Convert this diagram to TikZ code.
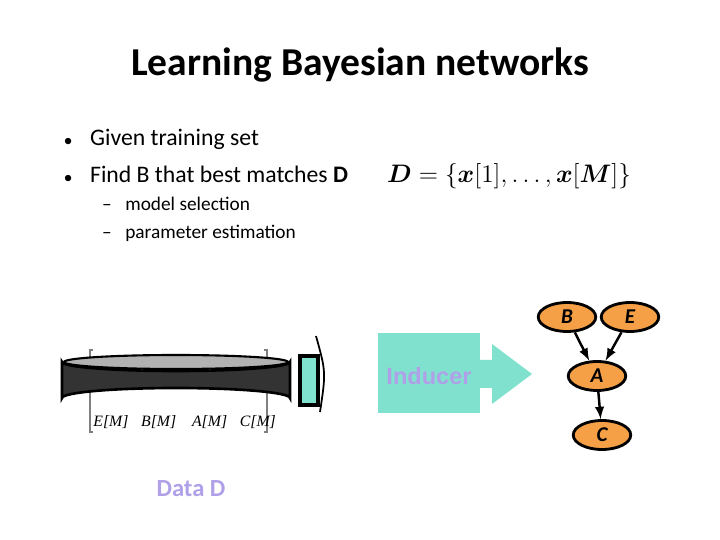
\documentclass[tikz,border=0pt]{standalone}
\usepackage{amsmath,bm}
\usepackage{fontspec}
\setmainfont{Carlito}
\setsansfont{Liberation Sans}
\newfontfamily\rowfont{Liberation Serif}
\usetikzlibrary{shapes.geometric}
\definecolor{teal}{RGB}{128,226,206}
\definecolor{lav}{RGB}{176,160,232}
\definecolor{bnorange}{RGB}{245,160,70}
\begin{document}
\begin{tikzpicture}[x=0.02cm,y=-0.02cm,
        title/.style={font=\fontsize{22.5}{25}\selectfont\bfseries},
        item/.style={anchor=west, font=\fontsize{13.5}{15}\selectfont},
        subitem/.style={anchor=west, font=\fontsize{11}{13}\selectfont},
        var/.style={ellipse, draw=black, line width=1.6pt, fill=bnorange, minimum width=1.15cm, minimum height=0.58cm, inner sep=0pt, font=\bfseries\itshape\large},
        edge/.style={->, >=latex, line width=1.4pt},
        caption/.style={text=lav, font=\fontsize{14}{16}\selectfont\bfseries}
    ]
        \useasboundingbox (0,0) rectangle (720,540);
        % Title
        \node[title] (title) at (360,65) {Learning Bayesian networks};
        % Bullets
        \node[item] (b1) at (58,139) {{\small$\bullet$}\hspace{0.75em}Given training set};
        \node[item] (b2) at (58,174) {{\small$\bullet$}\hspace{0.75em}Find B that best matches \textbf{D}};
        \node[subitem] (s1) at (96,204) {--\hspace{0.7em}model selection};
        \node[subitem] (s2) at (96,233) {--\hspace{0.7em}parameter estimation};
        % Formula
        \node[anchor=west, font=\fontsize{15}{17}\selectfont] (formula) at (381,176)
            {$\bm{D}=\{\bm{x}[1],\ldots,\bm{x}[\bm{M}]\}$};
        % Data cylinder
        \draw[line width=0.6pt, gray] (93,350) -- (90,350) -- (90,432) -- (93,432);
        \draw[line width=0.6pt, gray] (264,350) -- (267,350) -- (267,432) -- (264,432);
        \fill[black!80, draw=black, line width=1.5pt] (62,362) -- (62,398) arc[start angle=180, end angle=360, x radius=114, y radius=10]
            -- (290,362) arc[start angle=0, end angle=180, x radius=114, y radius=9] -- cycle;
        \fill[gray!60, draw=black, line width=1.2pt] (176,362) ellipse[x radius=112, y radius=7];
        \node[font=\fontsize{9}{10}\selectfont\rowfont\itshape, anchor=west, inner sep=0pt] (rowM) at (93,422)
            {E[M]\hspace{0.8em}B[M]\hspace{1em}A[M]\hspace{0.8em}C[M]};
        % Cut-off arrow
        \fill[teal, draw=black, line width=2.5pt] (300,356) rectangle (318,405);
        \draw[line width=1pt] (316,336) .. controls (326,372) .. (320,412);
        % Inducer
        \fill[teal] (378,333) rectangle (480,413);
        \fill[teal] (479,360) -- (492,360) -- (492,344) -- (532,374) -- (492,404) -- (492,388) -- (479,388) -- cycle;
        \node[text=lav, font=\fontsize{13.4}{15}\selectfont\sffamily\bfseries] (inducer) at (429,376) {Inducer};
        % Network
        \node[var] (B) at (567,317) {B};
        \node[var] (E) at (630,317) {E};
        \node[var] (A) at (597,376) {A};
        \node[var] (C) at (602,435) {C};
        \draw[edge] (B) -- (A);
        \draw[edge] (E) -- (A);
        \draw[edge] (A) -- (C);
        % Caption
        \node[caption] (data) at (191,489) {Data D};
    \end{tikzpicture}
\end{document}
